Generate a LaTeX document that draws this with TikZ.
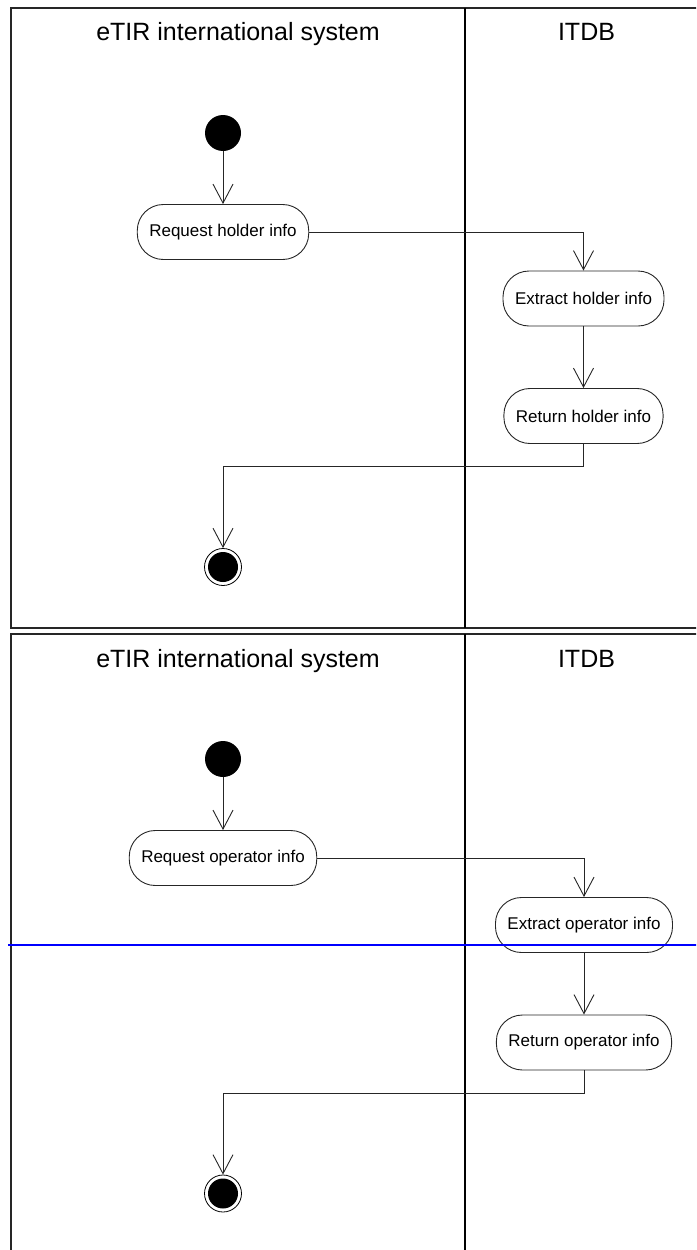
\documentclass[tikz,border=0pt]{standalone}
\usepackage{fontspec}
\setmainfont{Liberation Sans}
\usetikzlibrary{arrows.meta}
\begin{document}
\begin{tikzpicture}[x=1pt,y=-1pt,
  lane/.style={draw=black!85,line width=1.5pt},
  divider/.style={draw=black,line width=1.8pt},
  title/.style={anchor=base,font=\fontsize{25}{30}\selectfont},
  act/.style={draw=black!85,line width=0.9pt,rounded corners=26pt,fill=white,
    minimum height=55pt,inner xsep=12pt,font=\fontsize{17}{20}\selectfont},
  startst/.style={circle,fill=black,minimum size=36pt,inner sep=0pt},
  endst/.style={circle,draw=black,line width=0.8pt,minimum size=37pt,inner sep=0pt,
    path picture={\fill[black] (path picture bounding box.center) circle (15pt);}},
  flow/.style={draw=black!85,line width=0.9pt,-{Straight Barb[length=19pt,width=20pt]}}]
\useasboundingbox (0,0) rectangle (696,1250);
\clip (0,0) rectangle (696,1250);
% first diagram
\draw[lane] (11,8) rectangle (710,628);
\draw[divider] (465,8) -- (465,628);
\node[title] (sys1) at (238,40) {eTIR international system};
\node[title] (itdb1) at (586.5,40) {ITDB};
\node[startst] (start1) at (223,133) {};
\node[act] (req1) at (223,232) {Request holder info};
\node[act] (ext1) at (583.5,298.5) {Extract holder info};
\node[act] (ret1) at (583.5,416) {Return holder info};
\node[endst] (end1) at (223,567) {};
\path[flow] (start1) -- (req1);
\path[flow] (req1) -| (ext1);
\path[flow] (ext1) -- (ret1);
\path[flow] (ret1.south) -- ++(0,22.5) -| (end1);
% second diagram
\draw[lane] (11,634) rectangle (710,1260);
\draw[divider] (465,634) -- (465,1260);
\node[title] (sys2) at (238,667) {eTIR international system};
\node[title] (itdb2) at (586.5,667) {ITDB};
\node[startst] (start2) at (223,759) {};
\node[act] (req2) at (223,858) {Request operator info};
\node[act] (ext2) at (584,925) {Extract operator info};
\node[act] (ret2) at (584,1042.5) {Return operator info};
\node[endst] (end2) at (223,1193.5) {};
\path[flow] (start2) -- (req2);
\path[flow] (req2) -| (ext2);
\path[flow] (ext2) -- (ret2);
\path[flow] (ret2.south) -- ++(0,22.5) -| (end2);
% page break marker
\draw[blue,line width=2pt] (8,945) -- (700,945);
\end{tikzpicture}
\end{document}
